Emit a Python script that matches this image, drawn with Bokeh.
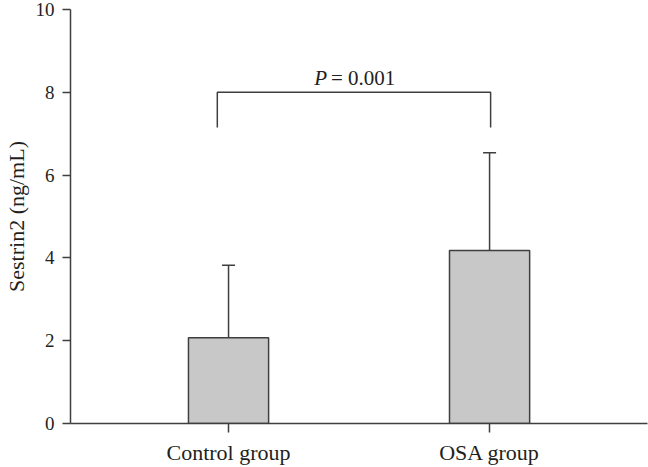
from bokeh.plotting import figure
from bokeh.models import ColumnDataSource, Whisker, TeeHead, FixedTicker, Label
from bokeh.embed import file_html
from bokeh.resources import INLINE

# ---- data ----
groups = ["Control group", "OSA group"]
group_pos = [1, 2]
means = [2.07, 4.18]
sds = [1.75, 2.36]
y_ticks = [0, 2, 4, 6, 8, 10]
p_label = "P"
p_value = "= 0.001"
bracket_low = 7.15
bracket_high = 8.0
text_y = 8.34

FONT = "Liberation Serif"
DARK = "#3f3f3f"
TXT = "#231f20"

p = figure(width=648, height=467, output_backend="svg", toolbar_location=None,
           x_range=(0.3946, 2.605), y_range=(0, 10),
           min_border_left=70, min_border_right=1, min_border_top=9, min_border_bottom=44)
p.outline_line_color = None
p.xgrid.grid_line_color = None
p.ygrid.grid_line_color = None
p.background_fill_color = "white"
p.border_fill_color = "white"

src = ColumnDataSource(dict(x=group_pos, top=means,
                            upper=[m + s for m, s in zip(means, sds)]))

p.vbar(x="x", top="top", bottom=0, width=0.307, source=src,
       fill_color="#c8c8c8", line_color=DARK, line_width=1.5)

w = Whisker(base="x", lower="top", upper="upper", source=src,
            line_color=DARK, line_width=1.5,
            upper_head=TeeHead(size=13, line_color=DARK, line_width=1.5),
            lower_head=None)
p.add_layout(w)

# significance bracket
bx_left = group_pos[0] - 0.043
bx_right = group_pos[1] + 0.004
p.line([bx_left, bx_left, bx_right, bx_right],
       [bracket_low, bracket_high, bracket_high, bracket_low],
       line_color=DARK, line_width=1.5)

mid = (bx_left + bx_right) / 2
p.add_layout(Label(x=mid, y=text_y, text=p_label, text_align="right",
                   text_baseline="alphabetic", x_offset=-27,
                   text_font=FONT, text_font_style="italic",
                   text_font_size="21px", text_color=TXT))
p.add_layout(Label(x=mid, y=text_y, text=p_value, text_align="left",
                   text_baseline="alphabetic", x_offset=-23,
                   text_font=FONT, text_font_size="21px", text_color=TXT))

# axes
for ax in (p.xaxis[0], p.yaxis[0]):
    ax.axis_line_color = DARK
    ax.axis_line_width = 1.5
    ax.major_tick_line_color = DARK
    ax.major_tick_line_width = 1.5
    ax.major_tick_in = 0
    ax.minor_tick_line_color = None
    ax.major_label_text_font = FONT
    ax.major_label_text_color = TXT
    ax.axis_label_text_font = FONT
    ax.axis_label_text_font_style = "normal"
    ax.axis_label_text_color = TXT

p.yaxis.ticker = FixedTicker(ticks=y_ticks)
p.yaxis.major_tick_out = 8
p.yaxis.major_label_text_font_size = "19px"
p.yaxis.major_label_standoff = 8
p.yaxis.axis_label = "Sestrin2 (ng/mL)"
p.yaxis.axis_label_text_font_size = "22px"
p.yaxis.axis_label_standoff = 4

p.xaxis.ticker = FixedTicker(ticks=group_pos)
p.xaxis.major_label_overrides = {gp: g for gp, g in zip(group_pos, groups)}
p.xaxis.major_tick_out = 9
p.xaxis.major_label_text_font_size = "22px"
p.xaxis.major_label_standoff = 7

open("out.html", "w").write(file_html(p, INLINE))
